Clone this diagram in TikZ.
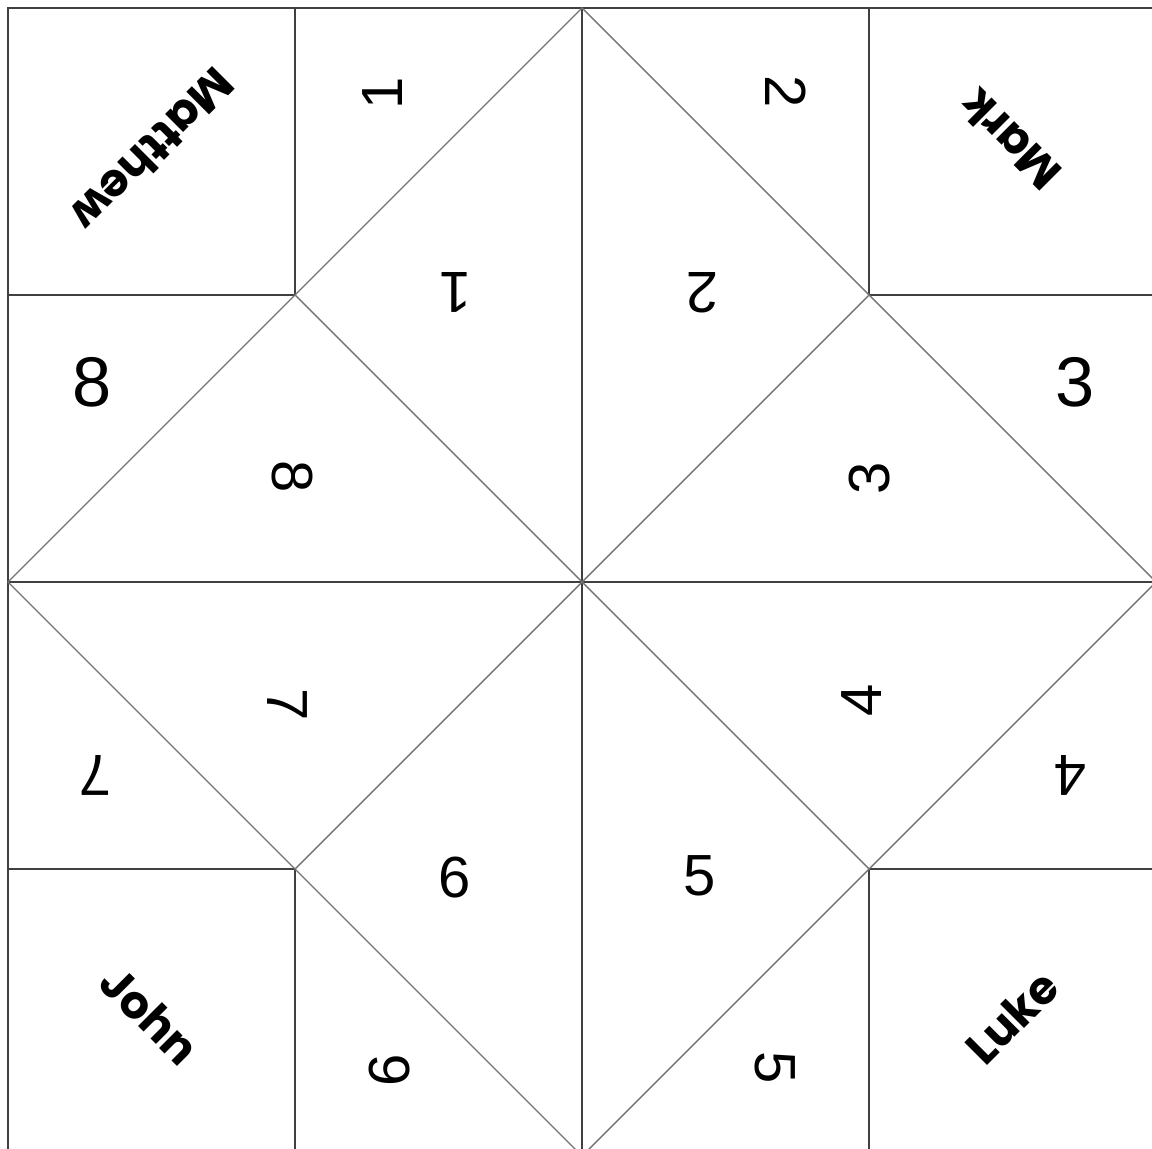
\documentclass[tikz,border=0pt]{standalone}
\usepackage{fontspec}
\setmainfont{Liberation Sans}
\newfontfamily\namefont{Poppins}
\begin{document}
\begin{tikzpicture}[x=0.01cm,y=-0.01cm,
  cutline/.style={black!75,line width=0.6pt},
  foldline/.style={gray!90!black,line width=0.4pt},
  digit/.style={font=\fontsize{16.5}{18}\selectfont},
  bigdigit/.style={font=\fontsize{20}{22}\selectfont},
  evname/.style={font=\namefont\bfseries\fontsize{13}{15}\selectfont}]

\useasboundingbox (0,0) rectangle (1152,1149);
\clip (0,0) rectangle (1152,1149);

% corner squares and the two middle lines
\foreach \x/\y in {8/8,869/8,8/869,869/869}
  \draw[cutline] (\x,\y) rectangle ++(287,287);
\draw[cutline] (8,8) -- (1156,8);
\draw[cutline] (8,8) -- (8,1156);
\draw[cutline] (8,582) -- (1156,582);
\draw[cutline] (582,8) -- (582,1156);

% fold lines
\draw[foldline] (582,8) -- (1156,582) -- (582,1156) -- (8,582) -- cycle;
\draw[foldline] (295,295) -- (869,869);
\draw[foldline] (869,295) -- (295,869);

% names in the corners
\node[evname,rotate=225] (matthew) at (153,150) {Matthew};
\node[evname,rotate=135] (mark) at (1010,140) {Mark};
\node[evname,rotate=-45] (john) at (150,1015) {John};
\node[evname,rotate=45] (luke) at (1012,1017) {Luke};

% outer numbers
\node[digit,rotate=90] (o1) at (383,93) {1};
\node[digit,rotate=-90] (o2) at (786,92) {2};
\node[bigdigit] (o8) at (92,382) {8};
\node[bigdigit] (o3) at (1075,382) {3};
\node[digit,rotate=180] (o7) at (95,775) {7};
\node[digit,rotate=180] (o4) at (1070,775) {4};
\node[digit,rotate=90] (o6) at (390,1070) {6};
\node[digit,rotate=-90] (o5) at (775,1068) {5};

% inner numbers
\node[digit,rotate=180] (i1) at (455,292) {1};
\node[digit,rotate=180] (i2) at (702,293) {2};
\node[digit,rotate=-90] (i8) at (292,477) {8};
\node[digit,rotate=90] (i3) at (870,478) {3};
\node[digit,rotate=-90] (i7) at (287,705) {7};
\node[digit,rotate=90] (i4) at (862,700) {4};
\node[digit] (i6) at (455,878) {6};
\node[digit] (i5) at (700,876) {5};

\end{tikzpicture}
\end{document}
